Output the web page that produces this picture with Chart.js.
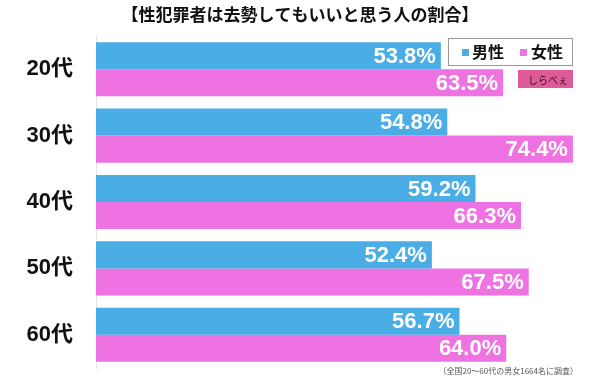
<!DOCTYPE html>
<html><head><meta charset="utf-8">
<script src="https://cdn.jsdelivr.net/npm/chart.js@4"></script>
<style>html,body{margin:0;padding:0;background:#fff}#wrap{width:600px;height:379px;position:relative}</style>
</head><body><div id="wrap"><canvas id="c" width="600" height="379"></canvas></div>
<script>
const title = "【性犯罪者は去勢してもいいと思う人の割合】";
const categories = ["20代", "30代", "40代", "50代", "60代"];
const seriesNames = ["男性", "女性"];
const male = [53.8, 54.8, 59.2, 52.4, 56.7];
const female = [63.5, 74.4, 66.3, 67.5, 64.0];
const footnote = "（全国20～60代の男女1664名に調査）";
const logoText = "しらべぇ";

const BLUE = "#4aade6", PINK = "#ee72e1";
const JP = '"Liberation Sans", "Noto Sans CJK JP", sans-serif';

const overlay = {
  id: "overlay",
  afterDatasetsDraw(chart) {
    const ctx = chart.ctx;
    ctx.save();
    ctx.font = 'bold 22px ' + JP;
    ctx.fillStyle = "#fff";
    ctx.textAlign = "right";
    ctx.textBaseline = "middle";
    chart.data.datasets.forEach((ds, di) => {
      chart.getDatasetMeta(di).data.forEach((el, i) => {
        ctx.fillText(ds.data[i].toFixed(1) + "%", el.x - 5, el.y + 1);
      });
    });
    ctx.fillStyle = "#111";
    ctx.textAlign = "center";
    ctx.font = 'bold 17px "Noto Sans CJK JP", sans-serif';
    ctx.fillText(title, 300, 15);
    ctx.fillStyle = "#fff";
    ctx.fillRect(448.5, 38.5, 124, 27);
    ctx.strokeStyle = "#9a9a9a";
    ctx.lineWidth = 1;
    ctx.strokeRect(448.5, 38.5, 124, 27);
    ctx.font = 'bold 16px "Noto Sans CJK JP", sans-serif';
    ctx.textAlign = "left";
    const items = [[462, 472, BLUE], [520, 531, PINK]];
    chart.data.datasets.forEach((ds, di) => {
      const [sx, tx, col] = items[di];
      ctx.fillStyle = col;
      ctx.fillRect(sx, 49, 7, 7);
      ctx.fillStyle = "#111";
      ctx.fillText(ds.label, tx, 52);
    });
    ctx.fillStyle = "#df5a98";
    ctx.fillRect(518, 70, 55, 18);
    ctx.fillStyle = "#3a1020";
    ctx.font = '10px "Noto Sans CJK JP", sans-serif';
    ctx.textAlign = "center";
    ctx.fillText(logoText, 548, 80);
    ctx.fillStyle = "#555";
    ctx.font = '8px "Noto Sans CJK JP", sans-serif';
    ctx.textAlign = "right";
    ctx.fillText(footnote, 578, 371);
    ctx.restore();
  }
};

new Chart(document.getElementById("c"), {
  type: "bar",
  data: {
    labels: categories,
    datasets: [
      { label: seriesNames[0], data: male, backgroundColor: BLUE },
      { label: seriesNames[1], data: female, backgroundColor: PINK }
    ]
  },
  options: {
    indexAxis: "y",
    responsive: false,
    animation: false,
    devicePixelRatio: 1,
    layout: { padding: { top: 36, bottom: 11, left: 0, right: 4 } },
    datasets: { bar: { categoryPercentage: 0.815, barPercentage: 1.0 } },
    plugins: { legend: { display: false }, tooltip: { enabled: false } },
    scales: {
      x: { display: false, min: 0, max: 78 },
      y: {
        afterFit(s) { s.width = 96; s.paddingTop = 0; s.paddingBottom = 0; },
        grid: { display: false, drawTicks: false },
        border: { display: true, color: "#e4e4e4" },
        ticks: { color: "#111", padding: 23, font: { size: 22, weight: "bold", family: JP } }
      }
    }
  },
  plugins: [overlay]
});
</script></body></html>
